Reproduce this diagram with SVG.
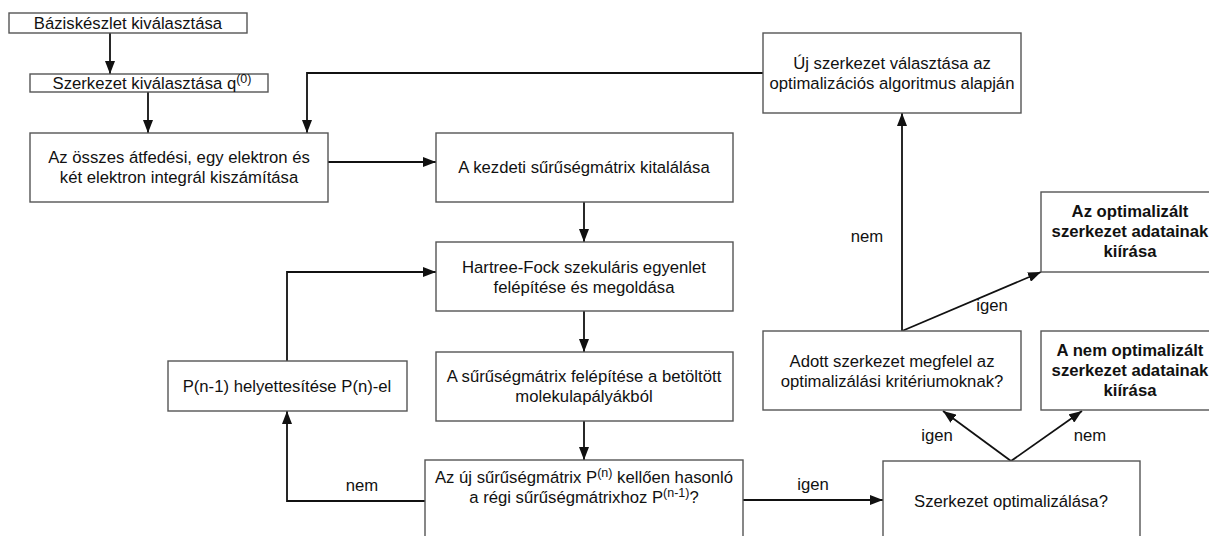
<svg xmlns="http://www.w3.org/2000/svg" width="1209" height="536" viewBox="0 0 1209 536">
<style>
  .box { fill: #ffffff; stroke: #555555; stroke-width: 1.4; }
  .t { font-family: "Liberation Sans", Arial, sans-serif; font-size: 16.7px; fill: #111111; text-anchor: middle; }
  .b { font-weight: bold; }
  .sup { font-size: 12.5px; }
  .lbl { font-family: "Liberation Sans", Arial, sans-serif; font-size: 16.7px; fill: #111111; text-anchor: middle; }
  .c { fill: none; stroke: #111111; stroke-width: 1.8; }
  .ca { fill: none; stroke: #111111; stroke-width: 1.8; marker-end: url(#ah); }
</style>
<defs>
  <marker id="ah" markerUnits="userSpaceOnUse" markerWidth="13" markerHeight="10" refX="13" refY="5" orient="auto">
    <path d="M0,0 L13,5 L0,10 z" fill="#111111"/>
  </marker>
</defs>
<rect width="1209" height="536" fill="#ffffff"/>

<g id="connectors">
  <line class="ca" x1="110" y1="33" x2="110" y2="74"/>
  <line class="ca" x1="148" y1="92" x2="148" y2="133"/>
  <polyline class="ca" points="763,73 307,73 307,133"/>
  <line class="ca" x1="328" y1="162" x2="436" y2="162"/>
  <line class="ca" x1="584" y1="202" x2="584" y2="242"/>
  <line class="ca" x1="584" y1="311" x2="584" y2="352"/>
  <line class="ca" x1="584" y1="421" x2="584" y2="460"/>
  <polyline class="ca" points="425,501 287,501 287,411"/>
  <polyline class="ca" points="287,361 287,272 436,272"/>
  <line class="ca" x1="743" y1="500" x2="883" y2="500"/>
  <line class="ca" x1="1011" y1="461" x2="943" y2="411"/>
  <line class="ca" x1="1011" y1="461" x2="1082" y2="411"/>
  <line class="ca" x1="902" y1="331" x2="902" y2="113"/>
  <line class="ca" x1="902" y1="331" x2="1041" y2="272"/>
  <text class="lbl" x="362" y="491">nem</text>
  <text class="lbl" x="813" y="490">igen</text>
  <text class="lbl" x="937" y="441">igen</text>
  <text class="lbl" x="1090" y="441">nem</text>
  <text class="lbl" x="992" y="311">igen</text>
  <text class="lbl" x="867" y="242">nem</text>
</g>

<g id="n1">
  <rect class="box" x="9" y="13" width="238" height="20"/>
  <text class="t" x="128" y="29">Báziskészlet kiválasztása</text>
</g>
<g id="n2">
  <rect class="box" x="30" y="74" width="238" height="18"/>
  <text class="t" x="152" y="89">Szerkezet kiválasztása q<tspan class="sup" dy="-6">(0)</tspan></text>
</g>
<g id="n3">
  <rect class="box" x="30" y="133" width="298" height="69"/>
  <text class="t" x="179" y="163">Az összes átfedési, egy elektron és</text>
  <text class="t" x="179" y="183">két elektron integrál kiszámítása</text>
</g>
<g id="n4">
  <rect class="box" x="436" y="133" width="297" height="69"/>
  <text class="t" x="584" y="173">A kezdeti sűrűségmátrix kitalálása</text>
</g>
<g id="n5">
  <rect class="box" x="436" y="242" width="297" height="69"/>
  <text class="t" x="584" y="273">Hartree-Fock szekuláris egyenlet</text>
  <text class="t" x="584" y="293">felépítése és megoldása</text>
</g>
<g id="n6">
  <rect class="box" x="436" y="352" width="297" height="69"/>
  <text class="t" x="584" y="382">A sűrűségmátrix felépítése a betöltött</text>
  <text class="t" x="584" y="402">molekulapályákból</text>
</g>
<g id="n7">
  <rect class="box" x="425" y="460" width="318" height="100"/>
  <text class="t" x="584" y="483">Az új sűrűségmátrix P<tspan class="sup" dy="-6">(n)</tspan><tspan dy="6"> kellően hasonló</tspan></text>
  <text class="t" x="584" y="503">a régi sűrűségmátrixhoz P<tspan class="sup" dy="-6">(n-1)</tspan><tspan dy="6">?</tspan></text>
</g>
<g id="n8">
  <rect class="box" x="168" y="361" width="239" height="50"/>
  <text class="t" x="287" y="392">P(n-1) helyettesítése P(n)-el</text>
</g>
<g id="n9">
  <rect class="box" x="883" y="461" width="257" height="100"/>
  <text class="t" x="1011" y="507">Szerkezet optimalizálása?</text>
</g>
<g id="n10">
  <rect class="box" x="763" y="331" width="258" height="79"/>
  <text class="t" x="892" y="367">Adott szerkezet megfelel az</text>
  <text class="t" x="892" y="387">optimalizálási kritériumoknak?</text>
</g>
<g id="n11">
  <rect class="box" x="1041" y="331" width="180" height="79"/>
  <text class="t b" x="1130" y="356">A nem optimalizált</text>
  <text class="t b" x="1130" y="376">szerkezet adatainak</text>
  <text class="t b" x="1130" y="396">kiírása</text>
</g>
<g id="n12">
  <rect class="box" x="1041" y="192" width="180" height="80"/>
  <text class="t b" x="1130" y="217">Az optimalizált</text>
  <text class="t b" x="1130" y="237">szerkezet adatainak</text>
  <text class="t b" x="1130" y="257">kiírása</text>
</g>
<g id="n13">
  <rect class="box" x="763" y="33" width="258" height="80"/>
  <text class="t" x="892" y="69">Új szerkezet választása az</text>
  <text class="t" x="892" y="89">optimalizációs algoritmus alapján</text>
</g>
</svg>
